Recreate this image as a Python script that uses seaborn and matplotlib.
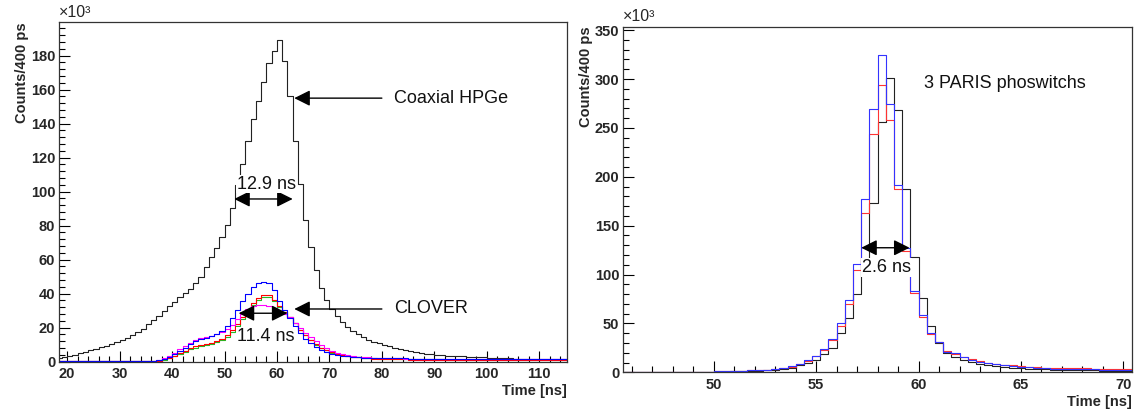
import numpy as np
import pandas as pd
import matplotlib
matplotlib.use("Agg")
import matplotlib.pyplot as plt
import seaborn as sns
from matplotlib.ticker import MultipleLocator

# ---------------- data: left panel (1 ns bins, starting at 18 ns) ----------------
left_start = 18.0
left_width = 1.0
coax_hpge = [2.0, 2.6, 3.3, 4.1, 4.9, 5.8, 6.6, 7.6, 8.5, 9.5,
             10.6, 11.6, 12.8, 14.0, 15.5, 17.3, 19.5, 22.0, 24.5, 27.0,
             29.8, 32.5, 35.3, 37.8, 40.3, 43.0, 46.0, 50.0, 55.5, 61.5,
             67.0, 73.5, 80.5, 90.5, 104.0, 116.5, 130.0, 142.5, 153.5, 164.5,
             175.5, 182.5, 189.0, 177.0, 156.0, 130.0, 104.5, 83.5, 67.5, 54.0,
             43.5, 36.5, 31.0, 27.0, 23.5, 20.5, 18.0, 16.0, 14.5, 13.0,
             11.8, 10.8, 9.9, 9.0, 8.2, 7.4, 6.8, 6.2, 5.7, 5.2,
             4.8, 4.4, 4.0, 3.8, 3.6, 3.4, 3.2, 3.1, 2.9, 2.8,
             2.6, 2.5, 2.3, 2.2, 2.1, 2.0, 1.9, 1.8, 1.8, 1.7,
             1.7, 1.6, 1.6, 1.5, 1.5, 1.5, 1.4, 1.4]
clover_blue = [0.2] * 18 + [
             0.5, 1.0, 1.8, 3.0, 4.5, 6.2, 8.2, 10.3, 12.0, 13.2,
             14.2, 15.2, 16.3, 18.0, 21.0, 25.5, 30.5, 35.5, 40.0, 44.0,
             46.5, 47.0, 46.0, 42.0, 35.5, 30.5, 25.5, 21.0, 17.0, 13.5,
             10.8, 8.5, 7.0, 5.8, 4.8, 4.1, 3.6, 3.2, 2.9, 2.6,
             2.4, 2.3, 2.2, 2.1, 2.0, 2.0, 1.9, 1.9, 1.9, 1.8,
             1.8, 1.8, 1.8, 1.7, 1.7, 1.7, 1.7, 1.7, 1.6, 1.6,
             1.6, 1.6, 1.6, 1.6, 1.6, 1.6, 1.6, 1.6, 1.6, 1.6,
             1.6, 1.6, 1.6, 1.6, 1.6, 1.6, 1.6, 1.6, 1.6, 1.6]
clover_red = [0.2] * 18 + [
             0.3, 0.7, 1.4, 2.4, 3.6, 5.0, 6.5, 8.0, 9.0, 9.8,
             10.5, 11.2, 12.2, 13.5, 15.5, 18.5, 22.0, 26.0, 30.5, 34.5,
             37.5, 39.3, 39.0, 36.5, 32.5, 29.5, 26.5, 22.5, 18.8, 15.5,
             12.8, 10.3, 8.3, 6.8, 5.5, 4.6, 3.9, 3.3, 2.9, 2.5,
             2.2, 2.0, 1.8, 1.7, 1.6, 1.5, 1.4, 1.3, 1.3, 1.2,
             1.2, 1.2, 1.1, 1.1, 1.1, 1.1, 1.0, 1.0, 1.0, 1.0,
             1.0, 1.0, 1.0, 1.0, 1.0, 1.0, 1.0, 1.0, 1.0, 1.0,
             1.0, 1.0, 1.0, 1.0, 1.0, 1.0, 1.0, 1.0, 1.0, 1.0]
clover_green = [0.2] * 18 + [
             0.3, 0.6, 1.2, 2.1, 3.2, 4.5, 5.9, 7.3, 8.3, 9.0,
             9.6, 10.3, 11.3, 12.6, 14.6, 17.6, 21.2, 25.2, 29.5, 33.5,
             36.5, 38.0, 37.8, 35.5, 32.0, 29.2, 26.4, 22.5, 18.8, 15.5,
             12.6, 10.1, 8.1, 6.6, 5.4, 4.5, 3.8, 3.2, 2.8, 2.5,
             2.3, 2.1, 1.9, 1.8, 1.7, 1.6, 1.5, 1.5, 1.4, 1.4,
             1.4, 1.3, 1.3, 1.3, 1.3, 1.3, 1.2, 1.2, 1.2, 1.2,
             1.2, 1.2, 1.2, 1.2, 1.2, 1.2, 1.2, 1.2, 1.2, 1.2,
             1.2, 1.2, 1.2, 1.2, 1.2, 1.2, 1.2, 1.2, 1.2, 1.2]
clover_magenta = [0.2] * 18 + [
             0.6, 1.2, 2.2, 3.6, 5.4, 7.3, 9.3, 11.2, 12.6, 13.8,
             14.6, 15.4, 16.3, 17.5, 19.2, 21.8, 25.0, 28.3, 30.8, 32.5,
             33.3, 33.5, 33.0, 31.5, 29.8, 28.3, 26.0, 23.0, 20.0, 17.0,
             14.5, 12.0, 9.8, 8.0, 6.5, 5.4, 4.5, 3.9, 3.4, 3.0,
             2.7, 2.5, 2.3, 2.2, 2.1, 2.0, 1.9, 1.9, 1.8, 1.8,
             1.8, 1.7, 1.7, 1.7, 1.7, 1.6, 1.6, 1.6, 1.6, 1.6,
             1.6, 1.5, 1.5, 1.5, 1.5, 1.5, 1.5, 1.5, 1.5, 1.5,
             1.5, 1.5, 1.5, 1.5, 1.5, 1.5, 1.5, 1.5, 1.5, 1.5]

# ---------------- data: right panel (0.4 ns bins, starting at 45.6 ns) ----------------
right_start = 45.6
right_width = 0.4
paris_black = [0.3, 0.3, 0.3, 0.3, 0.3, 0.4, 0.4, 0.4, 0.5, 0.5, 0.6, 0.7, 0.8, 1.0,
               1.3, 1.5, 1.8, 2.2, 2.6, 3.3, 4.8, 7.5, 9.2, 12.6, 18.4, 24.5, 40.0,
               56.0, 80.0, 115.0, 173.0, 256.0, 301.0, 268.0, 187.0, 118.0, 75.6,
               47.4, 30.0, 20.0, 15.5, 12.5, 10.3, 8.6, 7.2, 6.2, 5.4, 4.8, 4.3,
               3.8, 3.4, 3.1, 2.8, 2.6, 2.4, 2.2, 2.0, 1.9, 1.8, 1.7, 1.6, 1.5, 1.4]
paris_red = [0.3, 0.3, 0.3, 0.4, 0.4, 0.4, 0.5, 0.5, 0.6, 0.7, 0.8, 0.9, 1.1, 1.3,
             1.6, 2.0, 2.3, 2.7, 3.1, 4.0, 5.8, 8.6, 12.0, 16.3, 23.0, 33.0, 47.0,
             70.0, 104.6, 162.6, 244.0, 294.0, 258.0, 188.0, 124.0, 81.0, 57.0,
             39.5, 31.0, 21.5, 19.0, 15.5, 13.2, 11.5, 10.0, 8.8, 7.8, 7.0, 6.3,
             5.7, 5.2, 4.8, 4.5, 4.3, 4.1, 4.0, 3.9, 3.8, 3.7, 3.6, 3.5, 3.4, 3.3]
paris_blue = [0.3, 0.3, 0.3, 0.4, 0.4, 0.4, 0.5, 0.5, 0.6, 0.7, 0.8, 0.9, 1.1, 1.3,
              1.6, 2.0, 2.3, 2.7, 3.1, 4.0, 6.0, 9.0, 12.5, 17.0, 24.0, 34.5, 50.0,
              74.0, 111.0, 177.0, 269.0, 324.5, 274.0, 192.0, 127.0, 83.0, 58.6,
              40.5, 31.4, 21.2, 19.6, 15.5, 13.0, 11.0, 9.5, 8.2, 7.2, 6.4, 5.7,
              5.0, 4.5, 4.1, 3.8, 3.5, 3.3, 3.1, 3.0, 2.9, 2.8, 2.7, 2.6, 2.5, 2.4]

left_xticks = [20, 30, 40, 50, 60, 70, 80, 90, 100, 110]
left_yticks = [0, 20, 40, 60, 80, 100, 120, 140, 160, 180]
right_xticks = [50, 55, 60, 65, 70]
right_yticks = [0, 50, 100, 150, 200, 250, 300, 350]

# ---------------- style ----------------
sns.set_theme(style="white")
plt.rcParams['font.family'] = ['Liberation Sans', 'DejaVu Sans']

W, H = 1137, 412
fig = plt.figure(figsize=(W / 100, H / 100), dpi=100)

def px_axes(x0, y0, x1, y1):
    return fig.add_axes([x0 / W, 1 - y1 / H, (x1 - x0) / W, (y1 - y0) / H])

axL = px_axes(59.3, 22.3, 567.0, 361.7)
axR = px_axes(623.3, 26.7, 1131.5, 372.3)


def draw_hist(ax, start, width, vals, color):
    vals = list(vals)
    edges = start + width * np.arange(len(vals) + 1)
    df = pd.DataFrame({"t": edges, "n": vals + [vals[-1]]})
    sns.lineplot(data=df, x="t", y="n", estimator=None, sort=False,
                 drawstyle="steps-post", color=color, linewidth=0.8, ax=ax)


draw_hist(axL, left_start, left_width, coax_hpge, "#222222")
draw_hist(axL, left_start, left_width, clover_green, "#22bb22")
draw_hist(axL, left_start, left_width, clover_red, "#ff0000")
draw_hist(axL, left_start, left_width, clover_magenta, "#ff00ff")
draw_hist(axL, left_start, left_width, clover_blue, "#0000ff")

draw_hist(axR, right_start, right_width, paris_black, "#222222")
draw_hist(axR, right_start, right_width, paris_red, "#ff3333")
draw_hist(axR, right_start, right_width, paris_blue, "#3333ff")

axL.set_xlim(18.5, 115.3)
axL.set_ylim(0, 199.6)
axR.set_xlim(45.58, 70.4)
axR.set_ylim(0, 353.5)

tick_font = dict(fontsize=10.5, fontweight="bold")
for ax, xt, yt, xminor, yminor in [(axL, left_xticks, left_yticks, 2, 4),
                                   (axR, right_xticks, right_yticks, 1, 10)]:
    ax.set_xticks(xt)
    ax.set_yticks(yt)
    ax.set_xticklabels([str(v) for v in xt], **tick_font)
    ax.set_yticklabels([str(v) for v in yt], **tick_font)
    ax.xaxis.set_minor_locator(MultipleLocator(xminor))
    ax.yaxis.set_minor_locator(MultipleLocator(yminor))
    ax.tick_params(which="both", direction="in", top=False, right=False,
                   left=True, bottom=True, color="black", width=0.8)
    ax.tick_params(axis="y", which="major", length=8, pad=3)
    ax.tick_params(axis="y", which="minor", length=4)
    ax.tick_params(axis="x", which="major", length=8, pad=4)
    ax.tick_params(axis="x", which="minor", length=4)
    for s in ax.spines.values():
        s.set_visible(True)
        s.set_color("#333333")
        s.set_linewidth(0.9)
    ax.set_xlabel("Time [ns]", fontsize=10.5, fontweight="bold", loc="right", labelpad=2)
    ax.set_ylabel("Counts/400 ps", fontsize=10.5, fontweight="bold", loc="top", labelpad=1)
    ax.text(0.0, 1.008, "×10³", transform=ax.transAxes, fontsize=11.5,
            ha="left", va="bottom")
    ax.set_facecolor("white")

# ---------------- annotations ----------------
ann_font = dict(fontsize=13, color="#111111")
box = dict(boxstyle="square,pad=0.05", facecolor="white", edgecolor="none")
head = dict(color="black", lw=1.0, shrinkA=0, shrinkB=0, mutation_scale=24)

# Left panel
axL.annotate("", xy=(63.3, 155.0), xytext=(80.0, 155.0),
             arrowprops=dict(arrowstyle="-|>", **head))
axL.text(82.4, 155.0, "Coaxial HPGe", va="center", ha="left", **ann_font)
axL.annotate("", xy=(63.3, 31.0), xytext=(80.0, 31.0),
             arrowprops=dict(arrowstyle="-|>", **head))
axL.text(82.4, 31.0, "CLOVER", va="center", ha="left", **ann_font)

axL.annotate("", xy=(51.85, 95.7), xytext=(63.0, 95.7),
             arrowprops=dict(arrowstyle="<|-|>", **head))
axL.text(58.0, 104.5, "12.9 ns", va="center", ha="center", bbox=box, **ann_font)
axL.annotate("", xy=(52.7, 28.5), xytext=(62.0, 28.5),
             arrowprops=dict(arrowstyle="<|-|>", **head))
axL.text(57.9, 14.7, "11.4 ns", va="center", ha="center", bbox=box, **ann_font)

# Right panel
axR.text(60.26, 295.5, "3 PARIS phoswitchs", va="center", ha="left", **ann_font)
axR.annotate("", xy=(57.2, 127.4), xytext=(59.56, 127.4),
             arrowprops=dict(arrowstyle="<|-|>", **head))
axR.text(58.43, 107.0, "2.6 ns", va="center", ha="center", bbox=box, **ann_font)

fig.savefig("out.png", dpi=100, facecolor="white")
